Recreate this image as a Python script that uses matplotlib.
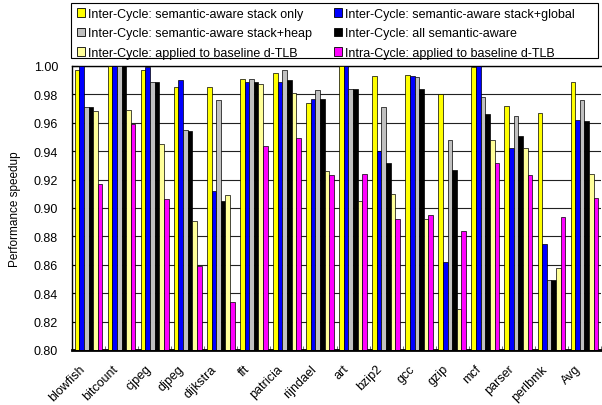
import matplotlib
matplotlib.use("Agg")
import matplotlib.pyplot as plt
from matplotlib.patches import Patch, Rectangle
from matplotlib.ticker import MultipleLocator, FixedLocator, FormatStrFormatter
import numpy as np

plt.rcParams['font.family'] = ['Liberation Sans', 'DejaVu Sans']

benchmarks = ["blowfish", "bitcount", "cjpeg", "djpeg", "dijkstra", "fft", "patricia",
              "rijndael", "art", "bzip2", "gcc", "gzip", "mcf", "parser", "perlbmk", "Avg"]

stack_only = [0.997, 1.000, 0.997, 0.985, 0.985, 0.991, 0.995, 0.974, 1.000, 0.993, 0.994, 0.980, 0.999, 0.972, 0.967, 0.989]
stack_global = [1.000, 1.000, 0.999, 0.990, 0.912, 0.989, 0.989, 0.977, 1.000, 0.940, 0.993, 0.862, 1.000, 0.942, 0.875, 0.962]
stack_heap = [0.971, 1.000, 0.989, 0.955, 0.976, 0.991, 0.997, 0.983, 0.984, 0.971, 0.992, 0.948, 0.978, 0.965, 0.849, 0.976]
all_semantic = [0.971, 1.000, 0.989, 0.954, 0.905, 0.989, 0.990, 0.977, 0.984, 0.932, 0.984, 0.927, 0.966, 0.951, 0.849, 0.961]
inter_baseline = [0.968, 0.969, 0.945, 0.891, 0.909, 0.987, 0.981, 0.926, 0.905, 0.910, 0.892, 0.829, 0.948, 0.942, 0.858, 0.924]
intra_baseline = [0.917, 0.959, 0.906, 0.859, 0.834, 0.944, 0.949, 0.923, 0.924, 0.892, 0.895, 0.884, 0.932, 0.923, 0.894, 0.907]

series = [stack_only, stack_global, stack_heap, all_semantic, inter_baseline, intra_baseline]
names = ["Inter-Cycle: semantic-aware stack only",
         "Inter-Cycle: semantic-aware stack+global",
         "Inter-Cycle: semantic-aware stack+heap",
         "Inter-Cycle: all semantic-aware",
         "Inter-Cycle: applied to baseline d-TLB",
         "Intra-Cycle: applied to baseline d-TLB"]
colors = ["#FFFF00", "#0000FF", "#C0C0C0", "#000000", "#FFFF99", "#FF00FF"]

W, H = 602, 406
fig = plt.figure(figsize=(W / 100, H / 100), dpi=100)
ax = fig.add_axes([72 / W, 1 - 351 / H, (601 - 72) / W, (351 - 67) / H])

x = np.arange(len(benchmarks))
n = len(series)
width = 0.84 / n
for k, (vals, col) in enumerate(zip(series, colors)):
    offs = (k - (n - 1) / 2) * width
    ax.bar(x + offs, vals, width, color=col, edgecolor="black", linewidth=0.5, zorder=3)

ax.set_ylim(0.80, 1.00)
ax.set_xlim(-0.5, len(benchmarks) - 0.5)
ax.yaxis.set_major_locator(MultipleLocator(0.02))
ax.yaxis.set_major_formatter(FormatStrFormatter("%.2f"))
ax.grid(axis="y", color="#222222", linewidth=0.8, zorder=0)
ax.set_axisbelow(True)

# rotated category labels sit a little left of each group's centre
label_shift = -0.3
ax.set_xticks(x + label_shift)
ax.set_xticklabels(benchmarks, rotation=45, ha="right", rotation_mode="anchor", fontsize=9)
ax.xaxis.set_minor_locator(FixedLocator(np.arange(len(benchmarks) + 1) - 0.5))
ax.tick_params(axis="x", which="major", length=0, pad=9)
ax.tick_params(axis="x", which="minor", direction="in", length=3, color="#555555")
ax.tick_params(axis="y", direction="in", length=4, labelsize=9, pad=10)

ax.set_ylabel("Performance speedup", fontsize=8.5, labelpad=9)

for side in ["left", "top"]:
    ax.spines[side].set_linewidth(1.0)
ax.spines["bottom"].set_linewidth(2.0)
ax.spines["right"].set_visible(False)

# legend box
fig.patches.append(Rectangle((71 / W, 1 - 59 / H), (598 - 71) / W, 55 / H,
                             transform=fig.transFigure, facecolor="white",
                             edgecolor="black", linewidth=0.8, zorder=0))

handles = [Patch(facecolor=c, edgecolor="black", linewidth=0.6) for c in colors]
order = [0, 2, 4, 1, 3, 5]
leg = fig.legend([handles[i] for i in order], [names[i] for i in order],
                 loc="upper left", ncol=2,
                 bbox_to_anchor=(77 / W, 1 - 9 / H),
                 fontsize=9, frameon=False,
                 handlelength=0.65, handleheight=0.65, handletextpad=0.25,
                 labelspacing=0.6, borderpad=0, columnspacing=1.75, borderaxespad=0)

fig.savefig("out.png", dpi=100)
